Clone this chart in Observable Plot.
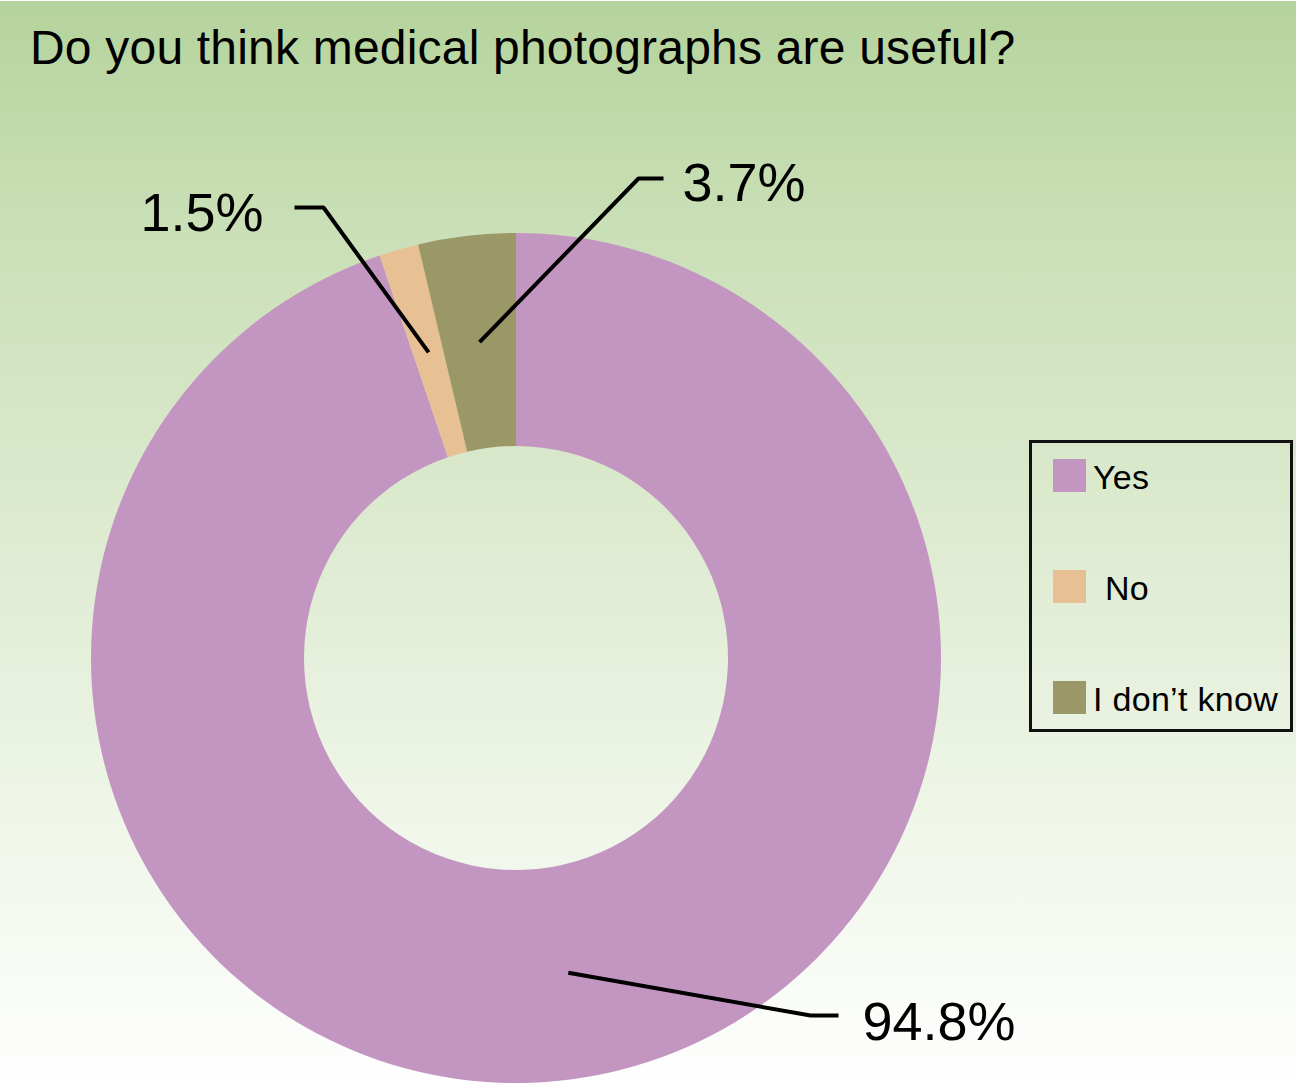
<!DOCTYPE html>
<html>
<head>
<meta charset="utf-8">
<script src="https://cdn.jsdelivr.net/npm/d3@7"></script>
<script src="https://cdn.jsdelivr.net/npm/@observablehq/plot@0.6"></script>
<style>
  html, body { margin: 0; padding: 0; background: #ffffff; }
  #wrap { position: relative; width: 1307px; height: 1090px; overflow: hidden; font-family: "Liberation Sans", Arial, Helvetica, sans-serif; }
  #bg { position: absolute; left: 0; top: 1px; width: 1296px; height: 1089px;
        background: linear-gradient(to bottom, #b5d39c 0%, #c9dfb6 20%, #dbe9cd 45%, #ecf4e4 70%, #ffffff 100%); }
  #chart { position: absolute; left: 0; top: 0; }
  #title { position: absolute; left: 30px; top: 24px; font-size: 48px; letter-spacing: 0.2px; color: #000; white-space: nowrap; line-height: 1; }
  #legend { position: absolute; left: 1029px; top: 440px; width: 264px; height: 292px; box-sizing: border-box; border: 3px solid #111; }
  .item { position: absolute; left: 21px; font-size: 34px; color: #000; white-space: nowrap; }
  .sw { position: absolute; left: 0; top: 0; width: 33px; height: 33px; }
  .lab { position: absolute; top: 2px; line-height: 33px; letter-spacing: 0.3px; }
</style>
</head>
<body>
<div id="wrap">
  <div id="bg"></div>
  <div id="chart"></div>
  <div id="title">Do you think medical photographs are useful?</div>
  <div id="legend"></div>
</div>
<script>
// ---- data ----
const categories = ["Yes", "No", "I don't know"];
const values = [94.8, 1.5, 3.7];
const labels = ["94.8%", "1.5%", "3.7%"];
const colors = ["#c396c2", "#e7c093", "#9b9868"];

// ---- layout (pixels relative to donut centre) ----
const rOuter = 425, rInner = 212;
const labelLayout = [
  {elbow: [294, 357], end: [322, 357], text: [346, 364], anchor: "start"},
  {elbow: [-193, -451], end: [-222, -451], text: [-253, -445], anchor: "end"},
  {elbow: [122, -480], end: [147, -480], text: [166, -475], anchor: "start"}
];

const data = categories.map((c, i) => ({label: c, value: values[i], text: labels[i], color: colors[i]}));
const pie = d3.pie().sort(null).value(d => d.value)(data);
const midArc = d3.arc().innerRadius((rInner + rOuter) / 2).outerRadius((rInner + rOuter) / 2);

const leaderPts = [];
pie.forEach((p, i) => {
  const [cx, cy] = midArc.centroid(p);
  const L = labelLayout[i];
  leaderPts.push({k: i, x: cx, y: cy});
  leaderPts.push({k: i, x: L.elbow[0], y: L.elbow[1]});
  leaderPts.push({k: i, x: L.end[0], y: L.end[1]});
});
const textPts = data.map((d, i) => ({text: d.text, x: labelLayout[i].text[0], y: labelLayout[i].text[1], anchor: labelLayout[i].anchor}));

function donutMark(index, scales) {
  const x = scales.x, y = scales.y;
  const ox = x(0), oy = y(0);
  const k = x(1) - x(0);
  const a = d3.arc().innerRadius(rInner * k).outerRadius(rOuter * k);
  const g = d3.create("svg:g").attr("transform", `translate(${ox},${oy})`);
  g.selectAll("path").data(pie).join("path")
    .attr("d", a)
    .attr("fill", d => d.data.color);
  return g.node();
}

const chart = Plot.plot({
  width: 1307,
  height: 1090,
  margin: 0,
  style: {background: "transparent", overflow: "visible"},
  x: {domain: [-516, 791], range: [0, 1307], axis: null},
  y: {domain: [-658, 432], range: [0, 1090], axis: null},
  marks: [
    donutMark,
    Plot.line(leaderPts, {x: "x", y: "y", z: "k", stroke: "#000", strokeWidth: 4, strokeLinejoin: "miter", strokeLinecap: "butt", curve: "linear"}),
    Plot.text(textPts.filter(d => d.anchor === "start"), {x: "x", y: "y", text: "text", textAnchor: "start", lineAnchor: "middle", fontSize: 54, fill: "#000", fontFamily: "Liberation Sans, Arial, sans-serif"}),
    Plot.text(textPts.filter(d => d.anchor === "end"), {x: "x", y: "y", text: "text", textAnchor: "end", lineAnchor: "middle", fontSize: 54, fill: "#000", fontFamily: "Liberation Sans, Arial, sans-serif"})
  ]
});
document.getElementById("chart").appendChild(chart);

// ---- legend ----
const legend = document.getElementById("legend");
const rowTops = [16, 127, 238];
const labelLefts = [40, 52, 40];
data.forEach((d, i) => {
  const item = document.createElement("div");
  item.className = "item";
  item.style.top = rowTops[i] + "px";
  const sw = document.createElement("div");
  sw.className = "sw";
  sw.style.background = d.color;
  const lab = document.createElement("div");
  lab.className = "lab";
  lab.style.left = labelLefts[i] + "px";
  lab.textContent = d.label === "I don't know" ? "I don\u2019t know" : d.label;
  item.appendChild(sw);
  item.appendChild(lab);
  legend.appendChild(item);
});
</script>
</body>
</html>
